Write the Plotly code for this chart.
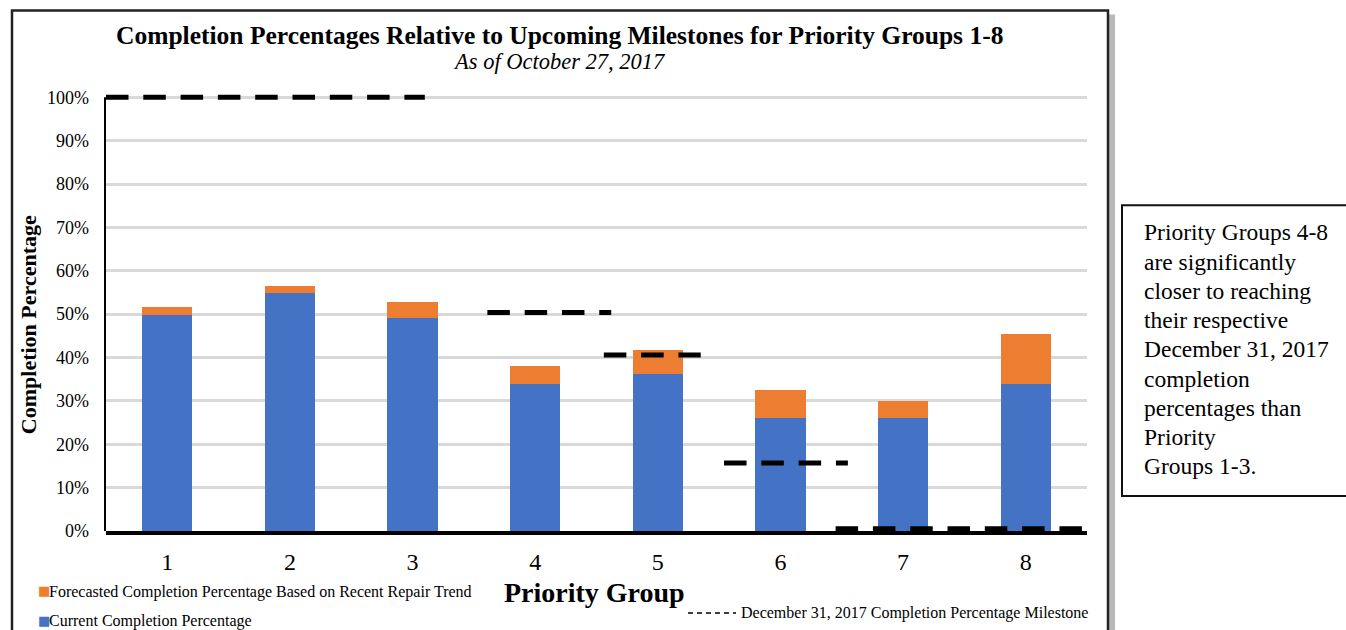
import plotly.graph_objects as go

# ---------------- data ----------------
groups = [1, 2, 3, 4, 5, 6, 7, 8]
group_labels = ["1", "2", "3", "4", "5", "6", "7", "8"]
current_pct = [49.8, 54.8, 49.1, 33.9, 36.2, 26.0, 26.0, 33.9]
forecast_total_pct = [51.6, 56.5, 52.8, 38.0, 41.7, 32.5, 30.0, 45.4]
# milestone segments (category-axis units) and their values
milestone_start = [0.5, 3.61, 4.56, 5.54, 6.45]
milestone_end = [3.10, 4.62, 5.35, 6.55, 8.47]
milestone_value = [100, 50.4, 40.6, 15.7, 0.5]
y_ticks = [0, 10, 20, 30, 40, 50, 60, 70, 80, 90, 100]
y_tick_labels = [f"{v}%" for v in y_ticks]
note_lines = ["Priority Groups 4-8", "are significantly", "closer to reaching",
              "their respective", "December 31, 2017", "completion",
              "percentages than", "Priority", "Groups 1-3."]

forecast_extra = [t - c for t, c in zip(forecast_total_pct, current_pct)]

BLUE = "#4472C4"
ORANGE = "#ED7D31"
FONT = "Liberation Serif"

W, H = 1346, 630
L, R, T0, B = 106, 1087, 97, 531  # plot area in px (T0 = 100% line)
YMAX = 101.0
T = B - (B - T0) * YMAX / 100.0


def px_x(px):
    return (px - L) / (R - L)


def px_y(py):
    return (B - py) / (B - T)


fig = go.Figure()
fig.add_trace(go.Bar(x=groups, y=current_pct, marker_color=BLUE, width=0.41,
                     marker_line_width=0, name="Current Completion Percentage"))
fig.add_trace(go.Bar(x=groups, y=forecast_extra, marker_color=ORANGE, width=0.41,
                     marker_line_width=0,
                     name="Forecasted Completion Percentage Based on Recent Repair Trend"))
for s, e, v in zip(milestone_start, milestone_end, milestone_value):
    fig.add_trace(go.Scatter(x=[s, e], y=[v, v], mode="lines", cliponaxis=False,
                             line=dict(color="black", width=5, dash="22.5px,14.8px"),
                             showlegend=False))

fig.update_layout(
    width=W, height=H, barmode="stack", showlegend=False,
    paper_bgcolor="white", plot_bgcolor="white",
    margin=dict(l=L, r=W - R, t=T, b=H - B, pad=0),
    font=dict(family=FONT, color="black"),
)
fig.update_xaxes(range=[0.5, 8.5], tickvals=groups, ticktext=group_labels,
                 tickfont=dict(size=24, family=FONT), showgrid=False,
                 showline=True, linecolor="black", linewidth=3.5, ticks="",
                 ticklabelstandoff=6, zeroline=False)
fig.update_yaxes(range=[0, YMAX], tickvals=y_ticks, ticktext=y_tick_labels,
                 tickfont=dict(size=18, family=FONT), showgrid=True,
                 gridcolor="#d9d9d9", gridwidth=2.5, showline=False,
                 ticks="", ticklabelstandoff=16, zeroline=False)

shapes = []
# outer chart border shadow + border
shapes.append(dict(type="rect", xref="paper", yref="paper",
                   x0=px_x(16), x1=px_x(1115), y0=px_y(660), y1=px_y(14),
                   line=dict(width=0), fillcolor="#b8b8b8", layer="below"))
shapes.append(dict(type="rect", xref="paper", yref="paper",
                   x0=px_x(12), x1=px_x(1108), y0=px_y(660), y1=px_y(10),
                   line=dict(color="#222", width=2.5), fillcolor="white", layer="below"))
# left axis line from 0% to 100%
shapes.append(dict(type="line", xref="paper", yref="y",
                   x0=px_x(105), x1=px_x(105), y0=0, y1=100,
                   line=dict(color="black", width=2)))
# note box
shapes.append(dict(type="rect", xref="paper", yref="paper",
                   x0=px_x(1122), x1=px_x(1365), y0=px_y(496), y1=px_y(205),
                   line=dict(color="#111", width=2), fillcolor="white"))
# milestone legend dashes
shapes.append(dict(type="line", xref="paper", yref="paper",
                   x0=px_x(688), x1=px_x(736), y0=px_y(613), y1=px_y(613),
                   line=dict(color="black", width=1.5, dash="5px,4px")))
fig.update_layout(shapes=shapes)

ann = []
ann.append(dict(text="<b>Completion Percentages Relative to Upcoming Milestones for Priority Groups 1-8</b>",
                x=px_x(559), y=px_y(35), xref="paper", yref="paper", showarrow=False,
                font=dict(size=25.5, family=FONT), xanchor="center", yanchor="middle"))
ann.append(dict(text="<i>As of October 27, 2017</i>",
                x=px_x(559), y=px_y(61), xref="paper", yref="paper", showarrow=False,
                font=dict(size=22.5, family=FONT), xanchor="center", yanchor="middle"))
ann.append(dict(text="<b>Completion Percentage</b>", textangle=-90,
                x=px_x(28), y=px_y(325), xref="paper", yref="paper", showarrow=False,
                font=dict(size=22, family=FONT), xanchor="center", yanchor="middle"))
ann.append(dict(text="<b>Priority Group</b>",
                x=px_x(594), y=px_y(593), xref="paper", yref="paper", showarrow=False,
                font=dict(size=28, family=FONT), xanchor="center", yanchor="middle"))
# legend entries
for col, yy in [(ORANGE, 591), (BLUE, 621)]:
    ann.append(dict(text="■", x=px_x(44), y=px_y(yy), xref="paper", yref="paper",
                    showarrow=False, font=dict(size=13, family="DejaVu Sans", color=col),
                    xanchor="center", yanchor="middle"))
ann.append(dict(text="Forecasted Completion Percentage Based on Recent Repair Trend",
                x=px_x(47), y=px_y(592), xref="paper", yref="paper", showarrow=False,
                font=dict(size=16, family=FONT), xanchor="left", yanchor="middle"))
ann.append(dict(text="Current Completion Percentage",
                x=px_x(47), y=px_y(621), xref="paper", yref="paper", showarrow=False,
                font=dict(size=16, family=FONT), xanchor="left", yanchor="middle"))
ann.append(dict(text="December 31, 2017 Completion Percentage Milestone",
                x=px_x(739), y=px_y(613), xref="paper", yref="paper", showarrow=False,
                font=dict(size=16, family=FONT), xanchor="left", yanchor="middle"))
# note lines
for i, line in enumerate(note_lines):
    ann.append(dict(text=line, x=px_x(1142), y=px_y(232 + i * 29.3), xref="paper",
                    yref="paper", showarrow=False, font=dict(size=23.5, family=FONT),
                    xanchor="left", yanchor="middle"))
fig.update_layout(annotations=ann)

fig.write_html("out.html")
